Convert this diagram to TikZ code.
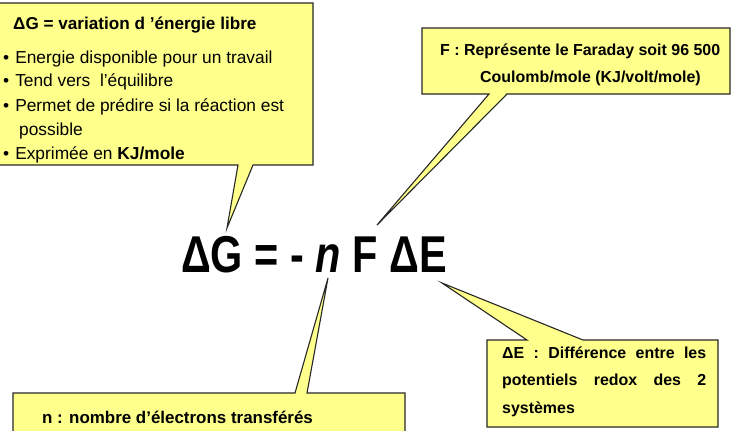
\documentclass[tikz,border=0pt]{standalone}
\usepackage{fontspec}
\setmainfont{Liberation Sans}
\definecolor{calloutfill}{RGB}{255,255,140}
\definecolor{calloutline}{RGB}{40,40,40}
\begin{document}
\begin{tikzpicture}[x=1bp,y=-1bp,
  callout/.style={fill=calloutfill, draw=calloutline, line width=1.1bp, line join=miter},
  regtext/.style={inner sep=0pt, anchor=base west, font=\fontsize{17.4}{20}\selectfont},
  boldtext/.style={inner sep=0pt, anchor=base west, font=\fontsize{17}{20}\selectfont\bfseries},
  eqtext/.style={inner sep=0pt, anchor=base, font=\fontsize{52}{52}\selectfont\bfseries},
]
\useasboundingbox (0,0) rectangle (737,430);
\clip (0,0) rectangle (737,430);
\fill[white] (0,0) rectangle (737,430);

% points the callouts aim at
\coordinate (tipG) at (227,228);
\coordinate (tipF) at (377,225);
\coordinate (tipN) at (328,278);
\coordinate (tipE) at (442,283);

% callout shapes
\draw[callout] (-5,3) -- (313,3) -- (313,165) -- (253,165) -- (tipG) -- (238,165) -- (-5,165) -- cycle;
\draw[callout] (422,28) -- (730,28) -- (730,94) -- (507,94) -- (tipF) -- (489,94) -- (422,94) -- cycle;
\draw[callout] (13,393) -- (295,393) -- (tipN) -- (307,393) -- (405,393) -- (405,440) -- (13,440) -- cycle;
\draw[callout] (487,340) -- (527,340) -- (tipE) -- (583,340) -- (718,340) -- (718,427) -- (487,427) -- cycle;

% equation
\node[eqtext] (eq) at (314,272) {\scalebox{0.8}[1]{ΔG = - \textit{n} F ΔE}};

% box 1 text
\node[boldtext, font=\fontsize{17.2}{20}\selectfont\bfseries] (t1) at (13,29) {ΔG = variation d 'énergie libre};
\node[regtext] (b1) at (3,63) {•\hspace{6bp}Energie disponible pour un travail};
\node[regtext] (b2) at (3,86) {•\hspace{6bp}Tend vers\ \ l’équilibre};
\node[regtext] (b3) at (3,111) {•\hspace{6bp}Permet de prédire si la réaction est};
\node[regtext] (b3b) at (19,135) {possible};
\node[regtext] (b4) at (3,159) {•\hspace{6bp}Exprimée en \textbf{KJ/mole}};

% box 2 text
\node[boldtext, font=\fontsize{16}{20}\selectfont\bfseries] (f1) at (440,55) {F : Représente le Faraday soit 96 500};
\node[boldtext, font=\fontsize{16}{20}\selectfont\bfseries] (f2) at (480,82) {Coulomb/mole (KJ/volt/mole)};

% box 3 text
\node[boldtext] (n1) at (42,423) {n : nombre d’électrons transférés};

% box 4 text
\node[boldtext, font=\fontsize{16}{20}\selectfont\bfseries] (e1) at (502,358) {\hbox to 204bp{ΔE\hfill:\hfill Différence\hfill entre\hfill les}};
\node[boldtext, font=\fontsize{16}{20}\selectfont\bfseries] (e2) at (502,385) {\hbox to 204bp{potentiels\hfill redox\hfill des\hfill 2}};
\node[boldtext, font=\fontsize{16}{20}\selectfont\bfseries] (e3) at (502,413) {systèmes};
\end{tikzpicture}
\end{document}
